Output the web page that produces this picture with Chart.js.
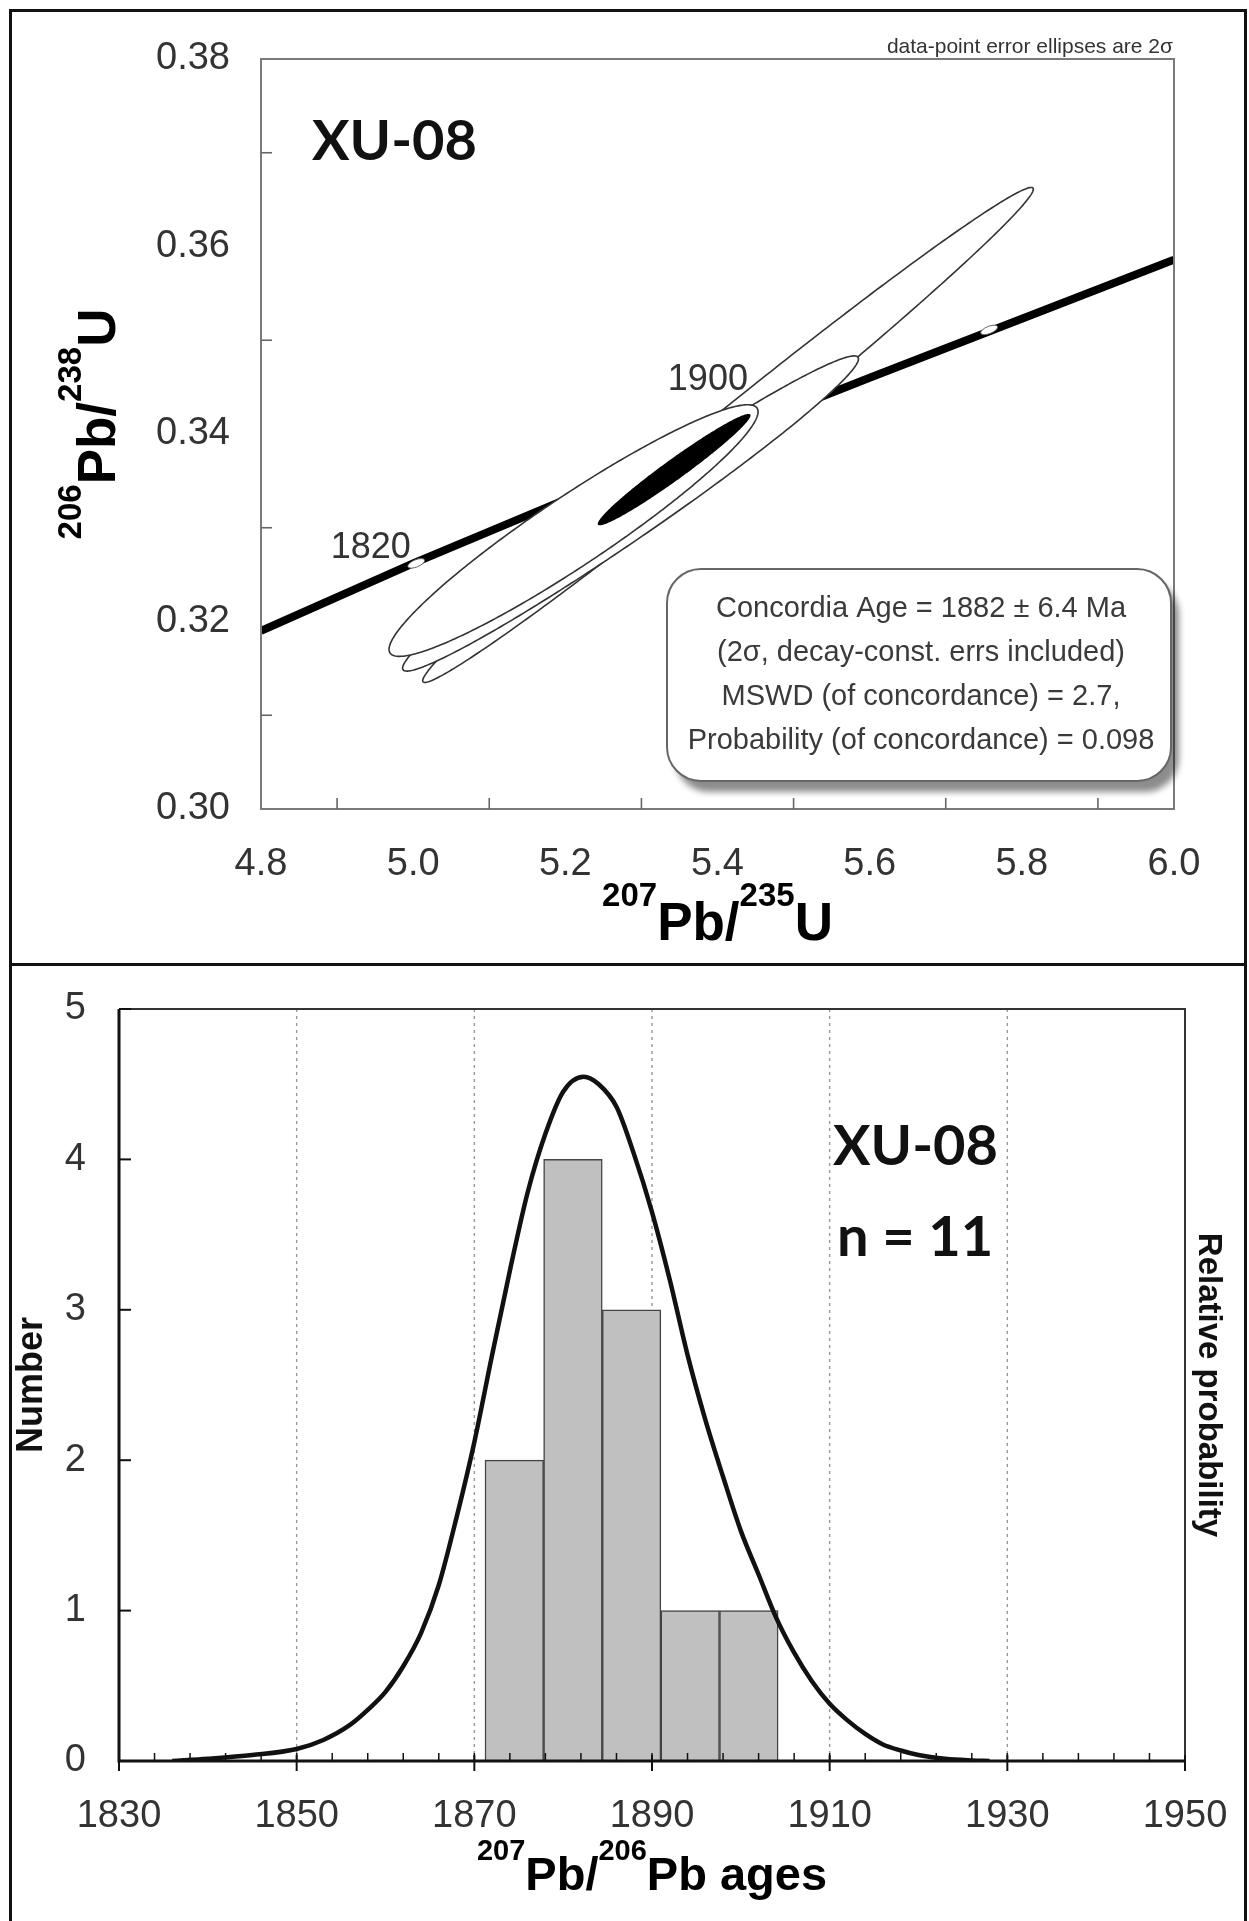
<!DOCTYPE html>
<html>
<head>
<meta charset="utf-8">
<title>XU-08 concordia and 207Pb/206Pb age histogram</title>
<script src="https://cdn.jsdelivr.net/npm/chart.js@4.4.1/dist/chart.umd.min.js"></script>
<style>
  body { margin: 0; background: #fff; }
  #page { position: relative; width: 1249px; height: 1921px; overflow: hidden; background: #fff; }
  canvas { position: absolute; left: 0; }
  #concordia { top: 0; }
  #histogram { top: 965px; }
  .rule { position: absolute; background: #111; }
</style>
</head>
<body>
<div id="page">
  <canvas id="concordia" width="1249" height="965"></canvas>
  <canvas id="histogram" width="1249" height="956"></canvas>
  <div class="rule" style="left:9px;top:9px;width:1238px;height:3px"></div>
  <div class="rule" style="left:9px;top:9px;width:3px;height:1912px"></div>
  <div class="rule" style="left:1244px;top:9px;width:3px;height:1912px"></div>
  <div class="rule" style="left:9px;top:963px;width:1238px;height:3px"></div>
</div>
<script>
var FONT = "'Liberation Sans', Arial, Helvetica, sans-serif";
var SAMPLE_FONT = "Lato, 'Liberation Sans', sans-serif";

// ---- top panel: concordia diagram ----
// concordia curve
var concordiaX = [4.8, 5.0, 5.2, 5.4, 5.6, 5.8, 6.0];
var concordiaY = [0.3190, 0.3262, 0.3330, 0.3396, 0.3460, 0.3523, 0.3586];

// age marks on the concordia (Ma)
var ageMarks = [1820, 1860, 1900, 1940];
var ageMarkX = [5.004, 5.246, 5.496, 5.757];
var ageMarkY = [0.3262, 0.3345, 0.3428, 0.3511];
// the visible labels (right end, baseline)
var ageLabelText = ['1820', '1900'];
var ageLabelX = [4.997, 5.440];
var ageLabelY = [0.3268, 0.3447];

// data-point error ellipses (2 sigma), drawn in this order
var ellX   = [5.4138, 5.2857, 5.2108];
var ellY   = [0.3399, 0.33152, 0.3297];
var ellSx  = [0.4013, 0.2996, 0.2425];
var ellSy  = [0.0264, 0.01681, 0.01342];
var ellRho = [0.993, 0.981, 0.944];

// concordia age ellipse
var meanX = 5.343, meanY = 0.3362, meanSx = 0.1004, meanSy = 0.00594, meanRho = 0.974;

var resultLines = [
  'Concordia Age = 1882 \u00b1 6.4 Ma',
  '(2\u03c3, decay-const. errs included)',
  'MSWD (of concordance) = 2.7,',
  'Probability (of concordance) = 0.098'
];

// ---- bottom panel: histogram + probability curve ----
var binEdges = [1871.2, 1877.8, 1884.4, 1891.0, 1897.6, 1904.2];
var binCounts = [2, 4, 3, 1, 1];

var probAge = [1836, 1840, 1845, 1850, 1853, 1856, 1858, 1860, 1862, 1864,
               1866, 1868, 1870, 1872, 1874, 1876, 1878, 1880, 1882.3, 1884,
               1886, 1888, 1890, 1892, 1894, 1896, 1898, 1900, 1902, 1904,
               1906, 1908, 1910, 1912, 1914, 1916, 1918, 1920, 1923, 1926, 1928];
var probVal = [0.0, 0.015, 0.04, 0.08, 0.14, 0.24, 0.34, 0.46, 0.63, 0.85,
               1.17, 1.62, 2.12, 2.70, 3.26, 3.78, 4.17, 4.45, 4.55, 4.50,
               4.35, 4.03, 3.65, 3.20, 2.70, 2.27, 1.89, 1.53, 1.24, 0.95,
               0.72, 0.53, 0.38, 0.27, 0.18, 0.11, 0.07, 0.04, 0.015, 0.004, 0.0];


function ellipsePath(ctx, xs, ys, cx, cy, sx, sy, rho) {
  var k = Math.sqrt(1 - rho * rho);
  ctx.beginPath();
  for (var j = 0; j <= 360; j++) {
    var t = j / 360 * 2 * Math.PI;
    var px = xs.getPixelForValue(cx + sx * Math.cos(t));
    var py = ys.getPixelForValue(cy + sy * (rho * Math.cos(t) + k * Math.sin(t)));
    if (j === 0) ctx.moveTo(px, py); else ctx.lineTo(px, py);
  }
  ctx.closePath();
}

function roundRect(ctx, x, y, w, h, r) {
  ctx.beginPath();
  ctx.moveTo(x + r, y);
  ctx.arcTo(x + w, y, x + w, y + h, r);
  ctx.arcTo(x + w, y + h, x, y + h, r);
  ctx.arcTo(x, y + h, x, y, r);
  ctx.arcTo(x, y, x + w, y, r);
  ctx.closePath();
}

// text with superscripts, centred on (cx, baseline), optionally rotated
function richText(ctx, parts, cx, baseline, size, supSize, rot) {
  ctx.save();
  ctx.translate(cx, baseline);
  ctx.rotate(rot || 0);
  ctx.fillStyle = '#000';
  ctx.textAlign = 'left';
  ctx.textBaseline = 'alphabetic';
  var widths = [], total = 0;
  parts.forEach(function (p) {
    ctx.font = 'bold ' + (p.sup ? supSize : size) + 'px ' + FONT;
    var w = ctx.measureText(p.t).width;
    widths.push(w);
    total += w;
  });
  var x = -total / 2;
  parts.forEach(function (p, i) {
    ctx.font = 'bold ' + (p.sup ? supSize : size) + 'px ' + FONT;
    ctx.fillText(p.t, x, p.sup ? -size * 0.64 : 0);
    x += widths[i];
  });
  ctx.restore();
}

// fixed axis boxes, and no extra room asked for by the end labels
function fixX(h) {
  return function (s) { s.height = h; s.paddingLeft = 0; s.paddingRight = 0; };
}
function fixY(w) {
  return function (s) { s.width = w; s.paddingTop = 0; s.paddingBottom = 0; };
}

var concordiaDecor = {
  id: 'concordiaDecor',
  afterDatasetsDraw: function (chart) {
    var ctx = chart.ctx, xs = chart.scales.x, ys = chart.scales.y, a = chart.chartArea;
    ctx.save();
    ctx.beginPath();
    ctx.rect(a.left, a.top, a.right - a.left, a.bottom - a.top);
    ctx.clip();

    // age marks along the concordia
    var n = concordiaX.length - 1;
    var ang = Math.atan2(ys.getPixelForValue(concordiaY[n]) - ys.getPixelForValue(concordiaY[0]),
                         xs.getPixelForValue(concordiaX[n]) - xs.getPixelForValue(concordiaX[0]));
    ageMarkX.forEach(function (mx, i) {
      ctx.beginPath();
      ctx.ellipse(xs.getPixelForValue(mx), ys.getPixelForValue(ageMarkY[i]), 9, 3.6, ang, 0, Math.PI * 2);
      ctx.fillStyle = '#fff';
      ctx.fill();
      ctx.lineWidth = 1;
      ctx.strokeStyle = '#666';
      ctx.stroke();
    });

    ctx.font = '36px ' + FONT;
    ctx.fillStyle = '#333';
    ctx.textAlign = 'right';
    ctx.textBaseline = 'alphabetic';
    ageLabelText.forEach(function (t, i) {
      ctx.fillText(t, xs.getPixelForValue(ageLabelX[i]), ys.getPixelForValue(ageLabelY[i]));
    });

    for (var i = 0; i < ellX.length; i++) {
      ellipsePath(ctx, xs, ys, ellX[i], ellY[i], ellSx[i], ellSy[i], ellRho[i]);
      ctx.fillStyle = '#fff';
      ctx.fill();
      ctx.lineWidth = 1.6;
      ctx.strokeStyle = '#333';
      ctx.stroke();
    }
    ellipsePath(ctx, xs, ys, meanX, meanY, meanSx, meanSy, meanRho);
    ctx.fillStyle = '#000';
    ctx.fill();
    ctx.restore();
  },
  afterDraw: function (chart) {
    var ctx = chart.ctx, xs = chart.scales.x, ys = chart.scales.y, a = chart.chartArea;
    var v, p;
    ctx.save();
    // plot frame
    ctx.lineWidth = 2;
    ctx.strokeStyle = '#7a7a7a';
    ctx.strokeRect(a.left, a.top, a.right - a.left, a.bottom - a.top);

    // small inward ticks between the labelled ones
    ctx.lineWidth = 1.6;
    ctx.strokeStyle = '#666';
    for (v = xs.min + 0.1; v < xs.max - 0.01; v += 0.2) {
      p = xs.getPixelForValue(v);
      ctx.beginPath(); ctx.moveTo(p, a.bottom); ctx.lineTo(p, a.bottom - 11); ctx.stroke();
    }
    for (v = ys.min + 0.01; v < ys.max - 0.001; v += 0.02) {
      p = ys.getPixelForValue(v);
      ctx.beginPath(); ctx.moveTo(a.left, p); ctx.lineTo(a.left + 11, p); ctx.stroke();
    }

    // axis titles
    richText(ctx, [{t: '207', sup: 1}, {t: 'Pb/'}, {t: '235', sup: 1}, {t: 'U'}],
             (a.left + a.right) / 2, a.bottom + 131, 53, 33, 0);
    richText(ctx, [{t: '206', sup: 1}, {t: 'Pb/'}, {t: '238', sup: 1}, {t: 'U'}],
             a.left - 146, (a.top + a.bottom) / 2 - 10, 53, 33, -Math.PI / 2);

    // sample name
    ctx.font = 'bold 56px ' + SAMPLE_FONT;
    ctx.fillStyle = '#111';
    ctx.textAlign = 'left';
    ctx.textBaseline = 'alphabetic';
    ctx.fillText('XU-08', a.left + 51, a.top + 101);

    // note above the frame
    ctx.font = '21px ' + FONT;
    ctx.fillStyle = '#333';
    ctx.textAlign = 'right';
    ctx.fillText('data-point error ellipses are 2\u03c3', a.right - 1, a.top - 6);

    // result box with shadow
    var bx = a.left + 406, by = a.top + 510, bw = a.right - 3 - bx, bh = a.bottom - 28 - by;
    ctx.save();
    ctx.shadowColor = 'rgba(0,0,0,0.45)';
    ctx.shadowOffsetX = 8;
    ctx.shadowOffsetY = 11;
    ctx.shadowBlur = 6;
    roundRect(ctx, bx, by, bw, bh, 34);
    ctx.fillStyle = '#fff';
    ctx.fill();
    ctx.restore();
    roundRect(ctx, bx, by, bw, bh, 34);
    ctx.lineWidth = 2;
    ctx.strokeStyle = '#666';
    ctx.stroke();

    ctx.font = '29px ' + FONT;
    ctx.fillStyle = '#3a3a3a';
    ctx.textAlign = 'center';
    ctx.textBaseline = 'middle';
    var mid = by + bh / 2;
    resultLines.forEach(function (t, i) {
      ctx.fillText(t, bx + bw / 2 + 2, mid + (i - 1.5) * 44);
    });
    ctx.restore();
  }
};

new Chart(document.getElementById('concordia'), {
  type: 'scatter',
  data: {
    datasets: [{
      label: 'concordia',
      data: concordiaX.map(function (x, i) { return {x: x, y: concordiaY[i]}; }),
      showLine: true,
      borderColor: '#000',
      borderWidth: 8,
      pointRadius: 0,
      tension: 0
    }]
  },
  options: {
    responsive: false,
    animation: false,
    events: [],
    layout: {padding: {left: 0, top: 59, right: 75, bottom: 0}},
    plugins: {legend: {display: false}, tooltip: {enabled: false}},
    scales: {
      x: {
        type: 'linear', min: 4.8, max: 6.0,
        afterFit: fixX(156),
        grid: {drawOnChartArea: false, drawTicks: false},
        border: {display: false},
        ticks: {
          stepSize: 0.2, padding: 33, color: '#333',
          font: {family: FONT, size: 38},
          callback: function (v) { return Number(v).toFixed(1); }
        }
      },
      y: {
        type: 'linear', min: 0.30, max: 0.38,
        afterFit: fixY(261),
        grid: {drawOnChartArea: false, drawTicks: false},
        border: {display: false},
        ticks: {
          stepSize: 0.02, padding: 31, color: '#333',
          font: {family: FONT, size: 38},
          callback: function (v) { return Number(v).toFixed(2); }
        }
      }
    }
  },
  plugins: [concordiaDecor]
});


var histDecor = {
  id: 'histDecor',
  beforeDatasetsDraw: function (chart) {
    var ctx = chart.ctx, xs = chart.scales.x, a = chart.chartArea;
    ctx.save();
    ctx.setLineDash([3, 4]);
    ctx.lineWidth = 1.4;
    ctx.strokeStyle = '#999';
    xs.ticks.forEach(function (t) {
      if (t.value <= xs.min || t.value >= xs.max) return;
      var p = xs.getPixelForValue(t.value);
      ctx.beginPath(); ctx.moveTo(p, a.top); ctx.lineTo(p, a.bottom); ctx.stroke();
    });
    ctx.restore();
  },
  afterDatasetsDraw: function (chart) {
    var ctx = chart.ctx, xs = chart.scales.x, ys = chart.scales.y, a = chart.chartArea;
    var v, p;
    ctx.save();
    // frame
    ctx.strokeStyle = '#333';
    ctx.lineWidth = 2;
    ctx.beginPath();
    ctx.moveTo(a.left, a.top); ctx.lineTo(a.right, a.top); ctx.lineTo(a.right, a.bottom);
    ctx.stroke();
    ctx.strokeStyle = '#111';
    ctx.lineWidth = 3;
    ctx.beginPath();
    ctx.moveTo(a.left, a.top); ctx.lineTo(a.left, a.bottom); ctx.lineTo(a.right + 1, a.bottom);
    ctx.stroke();

    // x ticks: major ones cross the axis, minor ones every 4 Ma point inward
    ctx.lineWidth = 2;
    xs.ticks.forEach(function (t) {
      p = xs.getPixelForValue(t.value);
      ctx.beginPath(); ctx.moveTo(p, a.bottom - 6); ctx.lineTo(p, a.bottom + 10); ctx.stroke();
    });
    ctx.lineWidth = 1.5;
    for (v = xs.min + 4; v < xs.max; v += 4) {
      if (v % 20 === 0) continue;
      p = xs.getPixelForValue(v);
      ctx.beginPath(); ctx.moveTo(p, a.bottom); ctx.lineTo(p, a.bottom - 8); ctx.stroke();
    }
    // y ticks
    ctx.lineWidth = 2;
    ys.ticks.forEach(function (t) {
      p = ys.getPixelForValue(t.value);
      ctx.beginPath(); ctx.moveTo(a.left, p); ctx.lineTo(a.left + 12, p); ctx.stroke();
    });

    // titles
    richText(ctx, [{t: '207', sup: 1}, {t: 'Pb/'}, {t: '206', sup: 1}, {t: 'Pb ages'}],
             (a.left + a.right) / 2, a.bottom + 129, 47, 29, 0);
    ctx.fillStyle = '#111';
    ctx.textAlign = 'center';
    ctx.textBaseline = 'alphabetic';
    ctx.save();
    ctx.translate(a.left - 77, (a.top + a.bottom) / 2);
    ctx.rotate(-Math.PI / 2);
    ctx.font = 'bold 36px ' + FONT;
    ctx.fillText('Number', 0, 0);
    ctx.restore();
    ctx.save();
    ctx.translate(a.right + 14, (a.top + a.bottom) / 2);
    ctx.rotate(Math.PI / 2);
    ctx.font = 'bold 33px ' + FONT;
    ctx.fillText('Relative probability', 0, 0);
    ctx.restore();

    // sample name and count
    ctx.font = 'bold 56px ' + SAMPLE_FONT;
    ctx.textAlign = 'left';
    ctx.fillText('XU-08', a.left + 714, a.top + 156);
    ctx.fillText('n = 11', a.left + 718, a.top + 247);
    ctx.restore();
  }
};

new Chart(document.getElementById('histogram'), {
  type: 'bar',
  data: {
    datasets: [{
      type: 'line',
      label: 'relative probability',
      order: 0,
      yAxisID: 'y2',
      data: probAge.map(function (x, i) { return {x: x, y: probVal[i]}; }),
      borderColor: '#111',
      borderWidth: 4.5,
      pointRadius: 0,
      fill: false,
      cubicInterpolationMode: 'monotone'
    }, {
      type: 'bar',
      label: 'number',
      order: 1,
      yAxisID: 'y',
      data: binCounts.map(function (c, i) { return {x: (binEdges[i] + binEdges[i + 1]) / 2, y: c}; }),
      backgroundColor: '#c0c0c0',
      borderColor: '#444',
      borderWidth: 1.5,
      categoryPercentage: 1,
      barPercentage: 1
    }]
  },
  options: {
    responsive: false,
    animation: false,
    events: [],
    layout: {padding: {left: 0, top: 44, right: 64, bottom: 0}},
    plugins: {legend: {display: false}, tooltip: {enabled: false}},
    scales: {
      x: {
        type: 'linear', min: 1830, max: 1950, offset: false,
        afterFit: fixX(160),
        grid: {display: false, drawTicks: false, offset: false},
        border: {display: false},
        ticks: {
          stepSize: 20, padding: 33, color: '#333', font: {family: FONT, size: 38},
          callback: function (v) { return String(v); }
        }
      },
      y: {
        type: 'linear', min: 0, max: 5,
        afterFit: fixY(119),
        grid: {display: false, drawTicks: false},
        border: {display: false},
        ticks: {stepSize: 1, padding: 33, color: '#333', font: {family: FONT, size: 38}}
      },
      y2: {type: 'linear', min: 0, max: 5, display: false, position: 'right', afterFit: fixY(0)}
    }
  },
  plugins: [histDecor]
});
</script>
</body>
</html>
